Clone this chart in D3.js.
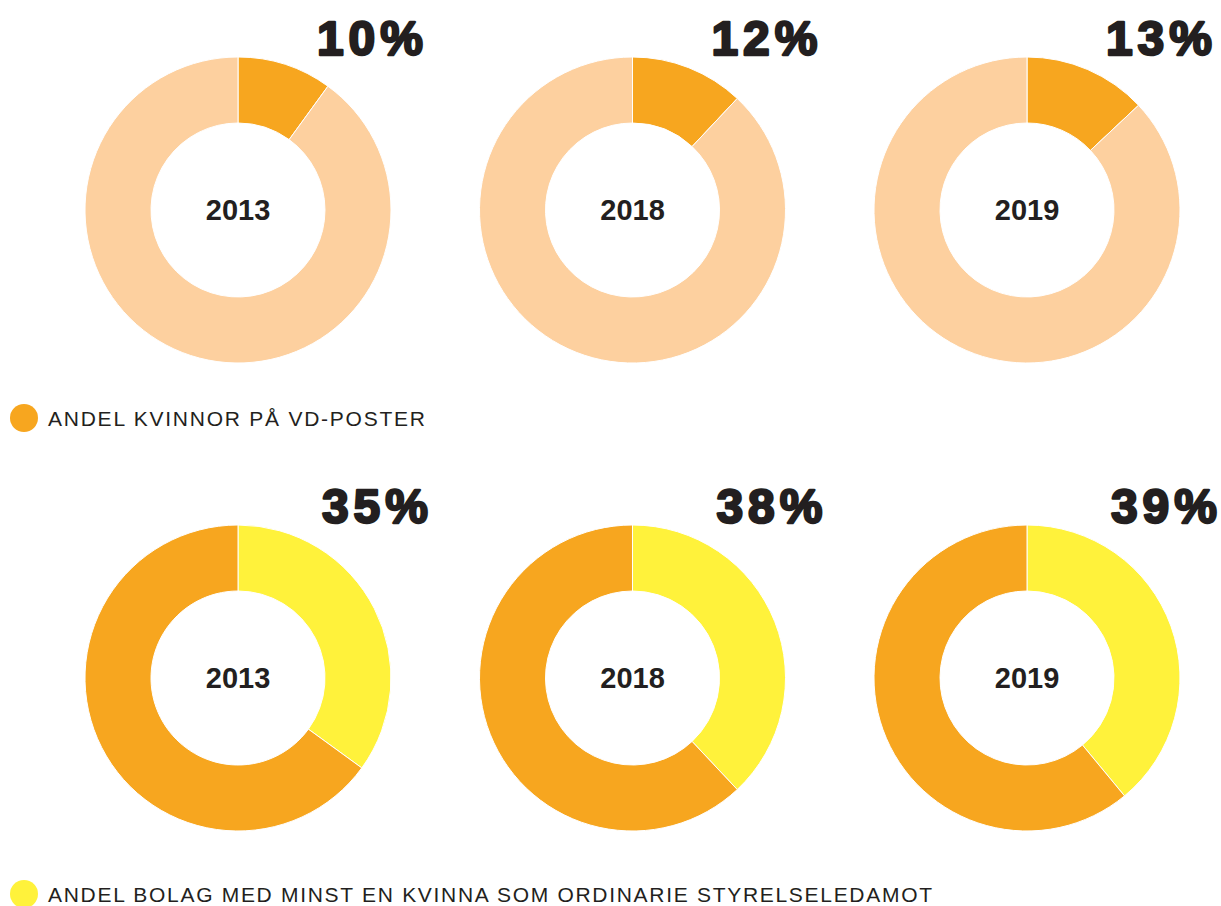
<!DOCTYPE html>
<html>
<head>
<meta charset="utf-8">
<script src="https://cdn.jsdelivr.net/npm/d3@7"></script>
<style>
  body { margin: 0; background: #fff; }
  svg { display: block; }
</style>
</head>
<body>
<div id="chart"></div>
<script>
// years shown in each row
var years = ["2013", "2018", "2019"];
// share of women as CEO (percent)
var ceoShare = [10, 12, 13];
// share of companies with at least one woman on the board (percent)
var boardShare = [35, 38, 39];

var legendCeo = "ANDEL KVINNOR PÅ VD-POSTER";
var legendBoard = "ANDEL BOLAG MED MINST EN KVINNA SOM ORDINARIE STYRELSELEDAMOT";

var width = 1221, height = 906;
var outerR = 153, innerR = 87;

var svg = d3.select("#chart").append("svg")
  .attr("width", width).attr("height", height);

// x position for each donut
var x = d3.scalePoint().domain(years).range([238, 1027]);

var pie = d3.pie().sort(null).value(function (d) { return d; });
var arc = d3.arc().innerRadius(innerR).outerRadius(outerR);

var rows = [
  { values: ceoShare, cy: 210, colors: ["#f7a61f", "#fdd09f"], labelDx: 190, legend: legendCeo, legendY: 418, legendLen: 377, legendColor: "#f7a61f" },
  { values: boardShare, cy: 678, colors: ["#fff23b", "#f7a61f"], labelDx: 195, legend: legendBoard, legendY: 894, legendLen: 884, legendColor: "#fff23b" }
];

rows.forEach(function (row) {
  var g = svg.append("g");
  years.forEach(function (yr, i) {
    var v = row.values[i];
    var donut = g.append("g").attr("transform", "translate(" + x(yr) + "," + row.cy + ")");
    donut.selectAll("path").data(pie([v, 100 - v])).enter().append("path")
      .attr("d", arc)
      .attr("fill", function (d, j) { return row.colors[j]; })
      .attr("stroke", "#fff").attr("stroke-width", 1);
    // year in the middle
    donut.append("text").attr("text-anchor", "middle").attr("dy", "0.36em")
      .style("font-family", "Liberation Sans, Arial, sans-serif")
      .style("font-weight", "bold").style("font-size", "29px")
      .attr("fill", "#231f20").text(yr);
    // percent label up right
    donut.append("text").attr("text-anchor", "end")
      .attr("x", row.labelDx).attr("y", -outerR - 2)
      .style("font-family", "Liberation Sans, Arial, sans-serif")
      .style("font-weight", "bold").style("font-size", "48px")
      .attr("fill", "#231f20").attr("stroke", "#231f20").attr("stroke-width", 2.4)
      .attr("stroke-linejoin", "round")
      .style("letter-spacing", "5px")
      .text(v + "%");
  });
  // legend
  g.append("circle").attr("cx", 24).attr("cy", row.legendY).attr("r", 14).attr("fill", row.legendColor);
  g.append("text").attr("x", 48).attr("y", row.legendY).attr("dy", "0.36em")
    .attr("textLength", row.legendLen).attr("lengthAdjust", "spacing")
    .style("font-family", "Liberation Sans, Arial, sans-serif")
    .style("font-size", "21px")
    .attr("fill", "#231f20").text(row.legend);
});
</script>
</body>
</html>
